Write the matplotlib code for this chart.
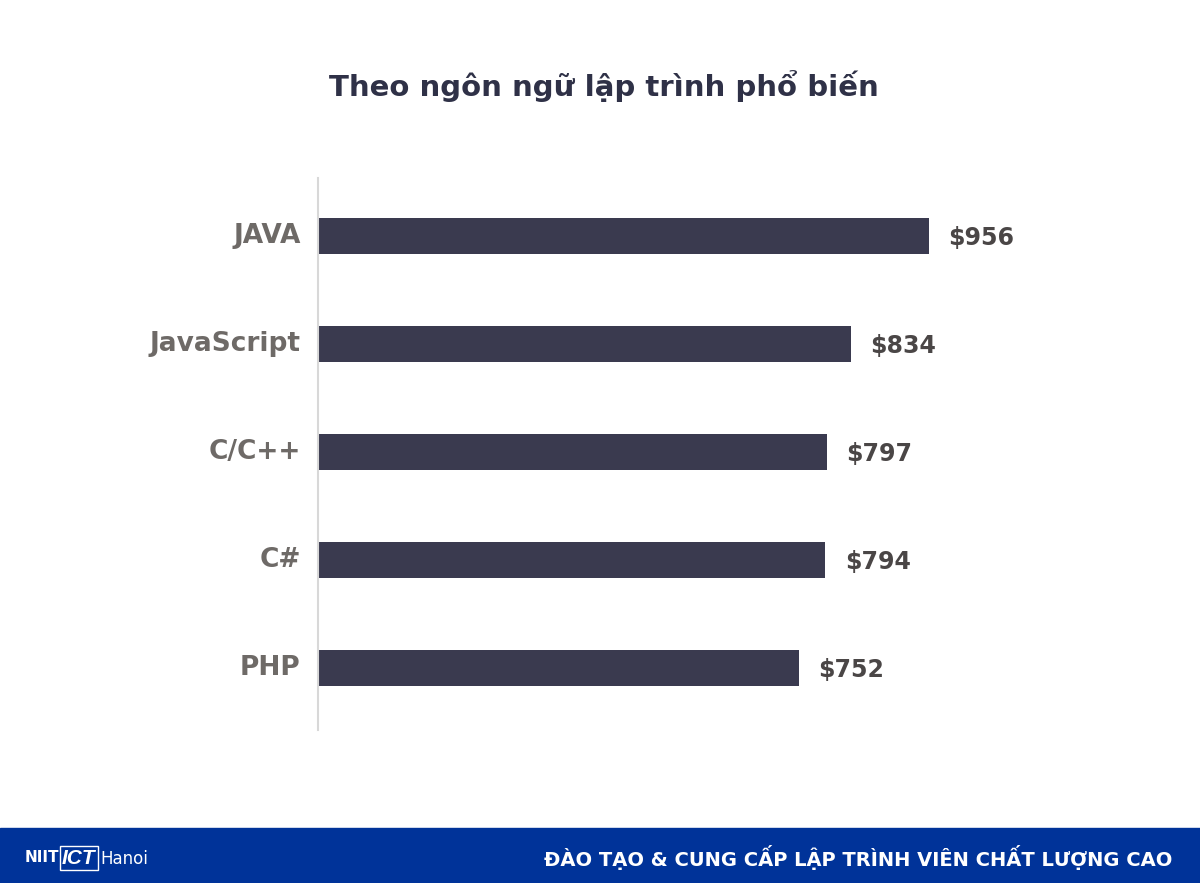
import matplotlib
matplotlib.use("Agg")
import matplotlib.pyplot as plt
import matplotlib.patches as mpatches

languages = ["JAVA", "JavaScript", "C/C++", "C#", "PHP"]
salaries = [956, 834, 797, 794, 752]
value_labels = ["$956", "$834", "$797", "$794", "$752"]

BAR_COLOR = "#3a3a4f"
LABEL_COLOR = "#6e6a67"
VALUE_COLOR = "#4a4646"
FOOTER_BLUE = "#003399"

fig = plt.figure(figsize=(12, 8.83), dpi=100)
fig.patch.set_facecolor("white")

ax = fig.add_axes([0.265, 0.1733, 0.735, 0.625])
ypos = list(range(len(languages)))
ax.barh(ypos, salaries, height=0.333, color=BAR_COLOR)
ax.set_xlim(0, 1380)
ax.set_ylim(4.574, -0.537)

for y, v, lab in zip(ypos, salaries, value_labels):
    ax.text(v + 30, y + 0.02, lab, va="center", ha="left", fontsize=17, fontweight="bold",
            color=VALUE_COLOR, family=["DejaVu Sans Condensed", "DejaVu Sans"])
for y, name in zip(ypos, languages):
    ax.text(-27, y, name, va="center", ha="right", fontsize=19, fontweight="bold",
            color=LABEL_COLOR, family=["DejaVu Sans"])

for s in ["top", "right", "bottom"]:
    ax.spines[s].set_visible(False)
ax.spines["left"].set_color("#d8d8d8")
ax.spines["left"].set_linewidth(1.5)
ax.set_xticks([])
ax.set_yticks([])

fig.text(0.503, 1 - 86 / 883, "Theo ngôn ngữ lập trình phổ biến", ha="center", va="center",
         fontsize=21, fontweight="bold", color="#2f3147", family=["DejaVu Sans"])

# footer band
fig.patches.append(mpatches.Rectangle((0, 0), 1, 55 / 883, transform=fig.transFigure,
                                      color=FOOTER_BLUE, zorder=0))
fig.text(1172 / 1200, 25 / 883, "ĐÀO TẠO & CUNG CẤP LẬP TRÌNH VIÊN CHẤT LƯỢNG CAO",
         ha="right", va="center", fontsize=14, fontweight="bold", color="white",
         family=["DejaVu Sans"])
fig.text(25 / 1200, 25 / 883, "NIIT", ha="left", va="center", fontsize=11,
         fontweight="bold", color="white", family=["DejaVu Sans Condensed", "DejaVu Sans"])
fig.text(62 / 1200, 25 / 883, "ICT", ha="left", va="center", fontsize=15,
         fontweight="bold", color="white", style="italic",
         family=["Liberation Sans", "DejaVu Sans"],
         bbox=dict(boxstyle="square,pad=0.1", fc="none", ec="white", lw=1))
fig.text(100 / 1200, 24 / 883, "Hanoi", ha="left", va="center", fontsize=12,
         color="white", family=["DejaVu Sans Condensed", "DejaVu Sans"])

fig.savefig("out.png", dpi=100)
